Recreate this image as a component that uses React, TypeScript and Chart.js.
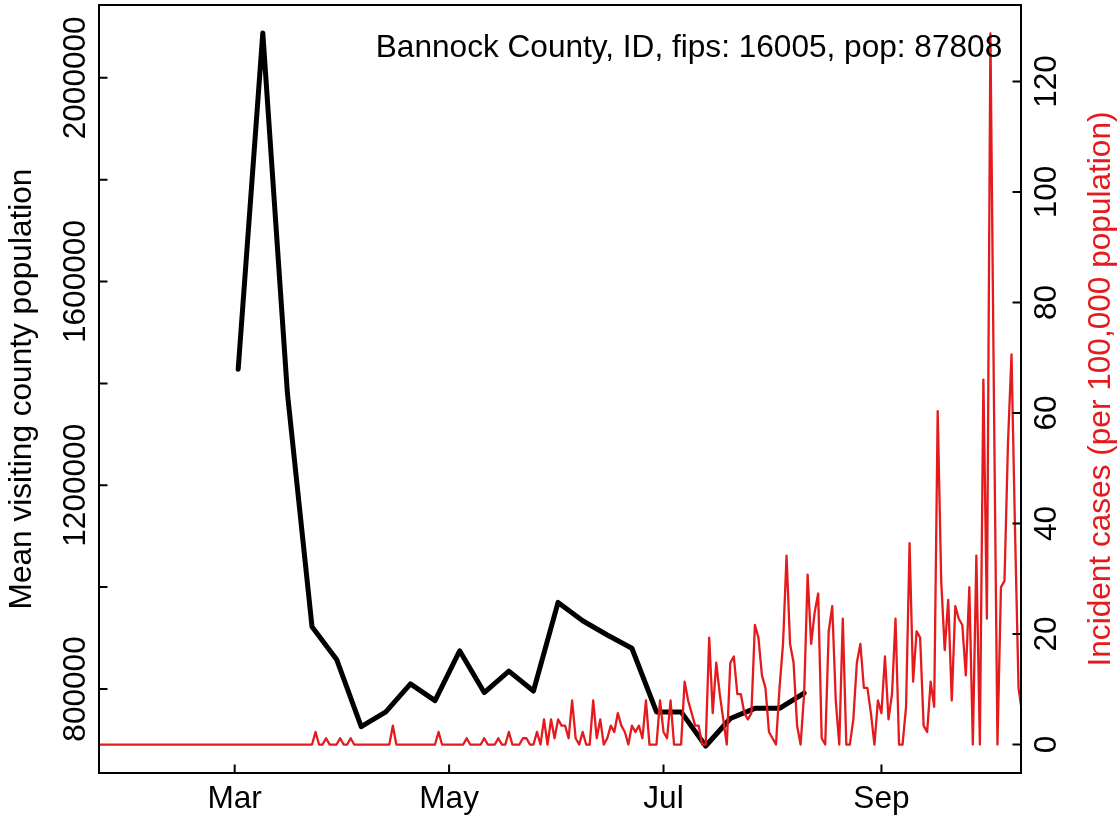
import React, { useEffect, useRef } from 'react';
import { Chart, registerables } from 'chart.js';

Chart.register(...registerables);

// ---------------- data ----------------
const countyLabel = 'Bannock County, ID, fips: 16005, pop: 87808';
const countyPopulation = 87808;
const leftAxisTitle = 'Mean visiting county population';
const rightAxisTitle = 'Incident cases (per 100,000 population)';

// x values are days since 1 March 2020
const monthTickDays = [0, 61, 122, 184];
const monthTickLabels = ['Mar', 'May', 'Jul', 'Sep'];

// weekly mean visiting county population (black line)
const visitDays = [1, 8, 15, 22, 29, 36, 43, 50, 57, 64, 71, 78, 85, 92, 99, 106, 113, 120, 127, 134, 141, 148, 155, 162];
const meanVisitingPopulation = [
  1428000, 2088000, 1381000, 922000, 858000, 726000, 755000, 810000, 777000, 875000, 793000, 835000,
  796000, 970000, 934000, 906000, 880000, 755000, 755000, 688000, 742000, 762000, 762000, 792000,
];

// daily incident case counts, starting 22 January 2020 (day -39)
const caseStartDay = -39;
const dailyCases = [
  0, 0, 0, 0, 0, 0, 0, 0, 0, 0,
  0, 0, 0, 0, 0, 0, 0, 0, 0, 0,
  0, 0, 0, 0, 0, 0, 0, 0, 0, 0,
  0, 0, 0, 0, 0, 0, 0, 0, 0, 0,
  0, 0, 0, 0, 0, 0, 0, 0, 0, 0,
  0, 0, 0, 0, 0, 0, 0, 0, 0, 0,
  0, 0,
  2, 0, 0, 1, 0, 0, 0, 1, 0, 0,
  1, 0, 0, 0, 0, 0, 0, 0, 0, 0,
  0, 0, 3, 0, 0, 0, 0, 0, 0, 0,
  0, 0, 0, 0, 0, 2, 0, 0, 0, 0,
  0, 0, 0, 1, 0, 0, 0, 0, 1, 0,
  0, 0, 1, 0, 0, 2, 0, 0, 0, 1,
  1, 0, 0, 2, 0, 4, 0, 4, 1, 4,
  3, 3, 1, 7, 1, 0, 2, 0, 0, 7,
  1, 4, 0, 1, 3, 2, 5, 3, 2, 0,
  3, 2, 3, 1, 7, 0, 0, 0, 7, 2,
  1, 7, 0, 0, 0, 10, 7, 5, 3, 3,
  0, 0, 17, 5, 13, 8, 4, 0, 13, 14,
  8, 8, 5, 4, 5, 19, 17, 11, 9, 2,
  1, 0, 9, 16, 30, 16, 13, 3, 0, 8,
  27, 16, 21, 24, 1, 0, 18, 22, 7, 0,
  20, 0, 0, 4, 13, 16, 9, 9, 5, 0,
  7, 5, 14, 4, 8, 20, 0, 0, 6, 32,
  10, 18, 17, 3, 2, 10, 6, 53, 26, 15,
  23, 7, 22, 20, 19, 11, 25, 0, 30, 0,
  58, 20, 113, 55, 0, 25, 26, 48, 62, 34,
  9, 5,
];

const leftTickValues = [800000, 1000000, 1200000, 1400000, 1600000, 1800000, 2000000];
const leftTickLabelValues = [800000, 1200000, 1600000, 2000000];
const rightTickValues = [0, 20, 40, 60, 80, 100, 120];

// ---------------- styling ----------------
const W = 1119;
const H = 822;
const FONT_SIZE = 31.6;
const FAMILY = "'Liberation Sans', Arial, Helvetica, sans-serif";
const RED = '#E41A1C';
const AREA = { left: 99, right: 1021, top: 5, bottom: 773 };
const TICK_LEN = 8.5;

const zeroPad = (s: any) => {
  s.paddingTop = 0;
  s.paddingBottom = 0;
  s.paddingLeft = 0;
  s.paddingRight = 0;
};

export default function App() {
  const ref = useRef<HTMLCanvasElement | null>(null);

  useEffect(() => {
    const canvas = ref.current;
    if (!canvas) return;

    const m = document.createElement('canvas').getContext('2d') as CanvasRenderingContext2D;
    m.font = `${FONT_SIZE}px ${FAMILY}`;
    const wLeft = m.measureText('2000000').width;
    const wRight = m.measureText('120').width;
    const leftPad = AREA.left - 75.8 - wLeft / 2;
    const rightPad = 1047.5 - AREA.right - wRight / 2;

    const caseSeries = dailyCases.map((c, i) => ({ x: caseStartDay + i, y: (c * 100000) / countyPopulation }));
    const visitSeries = visitDays.map((d, i) => ({ x: d, y: meanVisitingPopulation[i] }));

    const framePlugin = {
      id: 'rFrame',
      afterDraw(chart: any) {
        const ctx = chart.ctx as CanvasRenderingContext2D;
        const a = chart.chartArea;
        const sx = chart.scales.x;
        const sl = chart.scales.yL;
        const sr = chart.scales.yR;
        ctx.save();
        ctx.strokeStyle = '#000';
        ctx.lineWidth = 2;
        ctx.lineCap = 'butt';
        ctx.strokeRect(a.left, a.top, a.right - a.left, a.bottom - a.top);
        ctx.beginPath();
        monthTickDays.forEach((d) => {
          const px = sx.getPixelForValue(d);
          ctx.moveTo(px, a.bottom);
          ctx.lineTo(px, a.bottom - TICK_LEN);
        });
        leftTickValues.forEach((v) => {
          const py = sl.getPixelForValue(v);
          ctx.moveTo(a.left, py);
          ctx.lineTo(a.left + TICK_LEN, py);
        });
        rightTickValues.forEach((v) => {
          const py = sr.getPixelForValue(v);
          ctx.moveTo(a.right, py);
          ctx.lineTo(a.right - TICK_LEN, py);
        });
        ctx.stroke();

        ctx.font = `${FONT_SIZE}px ${FAMILY}`;
        ctx.fillStyle = '#000';
        ctx.textAlign = 'center';
        ctx.textBaseline = 'alphabetic';
        ctx.fillText(countyLabel, 689, 56.7);

        ctx.translate(1109.5, (a.top + a.bottom) / 2);
        ctx.rotate(-Math.PI / 2);
        ctx.fillStyle = RED;
        ctx.textAlign = 'center';
        ctx.fillText(rightAxisTitle, 0, 0);
        ctx.restore();
      },
    };

    const chart = new Chart(canvas, {
      type: 'line',
      data: {
        datasets: [
          {
            label: 'Incident cases',
            data: caseSeries,
            yAxisID: 'yR',
            borderColor: RED,
            borderWidth: 2.3,
            pointRadius: 0,
            tension: 0,
            borderJoinStyle: 'round',
            order: 0,
          },
          {
            label: 'Mean visiting county population',
            data: visitSeries,
            yAxisID: 'yL',
            borderColor: '#000',
            borderWidth: 5,
            pointRadius: 0,
            tension: 0,
            borderJoinStyle: 'round',
            borderCapStyle: 'round',
            order: 1,
          },
        ],
      },
      options: {
        animation: false,
        responsive: false,
        devicePixelRatio: 1,
        events: [],
        layout: { padding: { top: AREA.top, left: 0, right: 0, bottom: 0 } },
        font: { family: FAMILY, size: FONT_SIZE },
        plugins: {
          legend: { display: false },
          tooltip: { enabled: false },
          title: { display: false },
        },
        scales: {
          x: {
            type: 'linear',
            position: 'bottom',
            min: -38.6,
            max: 223.7,
            grid: { display: false, drawTicks: false },
            border: { display: false },
            afterBuildTicks: (s: any) => {
              s.ticks = monthTickDays.map((v) => ({ value: v }));
            },
            afterFit: (s: any) => {
              s.height = H - AREA.bottom;
              zeroPad(s);
            },
            ticks: {
              autoSkip: false,
              maxRotation: 0,
              minRotation: 0,
              padding: 7,
              color: '#000',
              font: { family: FAMILY, size: FONT_SIZE },
              callback: (_v: any, i: number) => monthTickLabels[i],
            },
          },
          yL: {
            type: 'linear',
            position: 'left',
            min: 635000,
            max: 2143000,
            grid: { display: false, drawTicks: false },
            border: { display: false },
            afterBuildTicks: (s: any) => {
              s.ticks = leftTickValues.map((v) => ({ value: v }));
            },
            afterFit: (s: any) => {
              s.width = AREA.left;
              zeroPad(s);
            },
            ticks: {
              autoSkip: false,
              minRotation: 90,
              maxRotation: 90,
              crossAlign: 'center',
              padding: leftPad,
              color: '#000',
              font: { family: FAMILY, size: FONT_SIZE },
              callback: (v: any) => (leftTickLabelValues.includes(Number(v)) ? String(v) : ''),
            },
            title: {
              display: true,
              text: leftAxisTitle,
              color: '#000',
              font: { family: FAMILY, size: FONT_SIZE },
              padding: { top: 3.4, bottom: 0 },
            },
          },
          yR: {
            type: 'linear',
            position: 'right',
            min: -5.15,
            max: 133.84,
            grid: { display: false, drawTicks: false },
            border: { display: false },
            afterBuildTicks: (s: any) => {
              s.ticks = rightTickValues.map((v) => ({ value: v }));
            },
            afterFit: (s: any) => {
              s.width = W - AREA.right;
              zeroPad(s);
            },
            ticks: {
              autoSkip: false,
              minRotation: 90,
              maxRotation: 90,
              crossAlign: 'center',
              padding: rightPad,
              color: '#000',
              font: { family: FAMILY, size: FONT_SIZE },
              callback: (v: any) => String(v),
            },
          },
        },
      } as any,
      plugins: [framePlugin],
    });

    return () => chart.destroy();
  }, []);

  return (
    <div style={{ position: 'fixed', left: 0, top: 0, width: W, height: H, background: '#fff' }}>
      <canvas ref={ref} width={W} height={H} style={{ display: 'block', width: W, height: H }} />
    </div>
  );
}
